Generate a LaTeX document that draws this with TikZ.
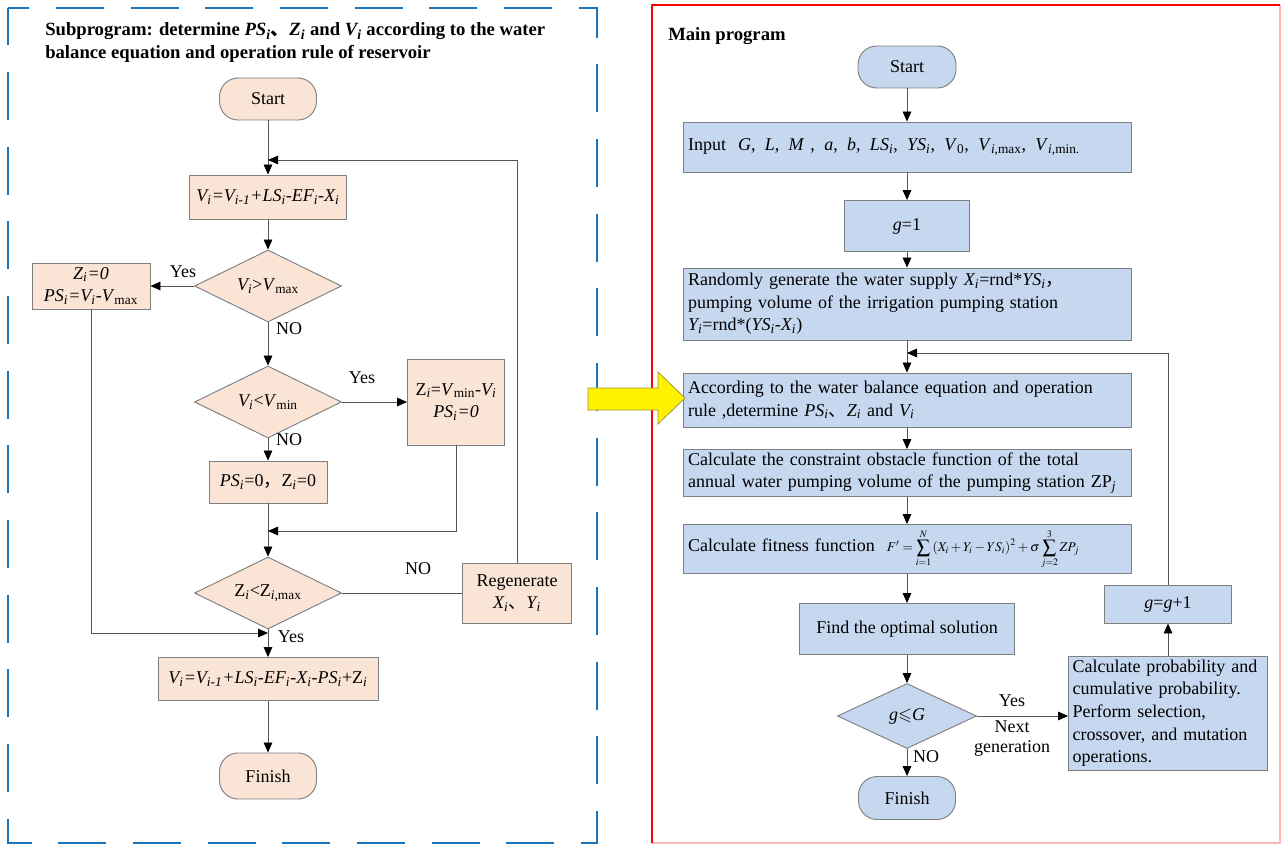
\documentclass[tikz,border=0pt]{standalone}
\usepackage{mathptmx}
\usepackage{fontspec}
\setmainfont{Liberation Serif}
\newfontfamily\cjk{Noto Sans CJK SC}
\usepackage{amssymb}
\usetikzlibrary{arrows.meta,shapes.geometric}
\newcommand{\sbs}[1]{\textsubscript{#1}}
\newcommand{\dun}{{\cjk 、}}
\newcommand{\fcm}{{\cjk ，}}
\newcommand{\isp}{\space\hspace{2.5pt}}
\newcommand{\pxl}[1]{#1*0.75pt}
\definecolor{peach}{HTML}{FAE4D5}
\definecolor{lblue}{HTML}{C6D8EF}
\definecolor{edgegray}{HTML}{7F7F7F}
\definecolor{conngray}{HTML}{555555}
\definecolor{dashblue}{HTML}{1B75BC}
\definecolor{pinkline}{HTML}{FFB8B8}
\definecolor{arrowedge}{HTML}{9A9A40}
\tikzset{
  base/.style={draw=edgegray, line width=0.7pt, inner sep=0pt, font=\fontsize{13.5}{17}\selectfont, align=center},
  pbox/.style={base, fill=peach, rectangle},
  bbox/.style={base, fill=lblue, rectangle},
  term/.style={rounded corners=14pt},
  dia/.style={diamond, aspect=2},
  wide/.style={bbox, text width=\pxl{438}, inner xsep=\pxl{5}, align=left},
  ar/.style={draw=conngray, line width=0.6pt, -{Triangle[length=7.5pt,width=6.5pt,color=black]}},
  ln/.style={draw=conngray, line width=0.6pt},
  lab/.style={font=\fontsize{13.5}{15}\selectfont, inner sep=1pt, align=center},
  ttl/.style={font=\bfseries\fontsize{14}{16}\selectfont, inner sep=0pt, anchor=base west}
}
\begin{document}
\begin{tikzpicture}[x=0.75pt,y=-0.75pt]
\useasboundingbox (0,0) rectangle (1281,845);
\fill[white] (0,0) rectangle (1281,845);
% frames
\draw[dashblue, line width=2.2pt, dash pattern=on 36pt off 20pt, dash phase=8pt] (8,8) rectangle (597,843);
\draw[pinkline, line width=1.2pt] (1280,5) -- (1280,843) -- (652,843);
\draw[red, line width=2.2pt] (652,843) -- (652,5) -- (1280,5);

% ---------- left ----------
\node[ttl] (t1) at (45,36) {Subprogram: determine \textit{PS\sbs{i}}\dun\textit{Z\sbs{i}} and \textit{V\sbs{i}} according to the water};
\node[ttl] (t2) at (45,59) {balance equation and operation rule of reservoir};

\node[pbox, term, minimum width=\pxl{97}, minimum height=\pxl{42}] (ls) at (268,99) {Start};
\node[pbox, minimum width=\pxl{157}, minimum height=\pxl{44}] (lb1) at (268,197) {\textit{V\sbs{i}=V\sbs{i-1}+LS\sbs{i}-EF\sbs{i}-X\sbs{i}}};
\node[pbox, dia, minimum width=\pxl{147}, minimum height=\pxl{72}] (ld1) at (268,286) {\textit{V\sbs{i}}>\textit{V}\sbs{max}};
\node[pbox, minimum width=\pxl{118}, minimum height=\pxl{46}] (ll) at (91,286) {\textit{Z\sbs{i}=0}\\\textit{PS\sbs{i}=V\sbs{i}-V}\sbs{max}};
\node[pbox, dia, minimum width=\pxl{147}, minimum height=\pxl{72}] (ld2) at (268,402) {\textit{V\sbs{i}}<\textit{V}\sbs{min}};
\node[pbox, minimum width=\pxl{97}, minimum height=\pxl{86}] (lr) at (456,402) {Z\sbs{\textit{i}}=\textit{V}\sbs{min}-\textit{V\sbs{i}}\\\textit{PS\sbs{i}=0}};
\node[pbox, minimum width=\pxl{118}, minimum height=\pxl{42}] (lb2) at (268,482) {\textit{PS\sbs{i}}=0\fcm Z\sbs{\textit{i}}=0};
\node[pbox, dia, minimum width=\pxl{147}, minimum height=\pxl{72}] (ld3) at (268,593) {Z\sbs{\textit{i}}<Z\sbs{\textit{i},max}};
\node[pbox, minimum width=\pxl{109}, minimum height=\pxl{60}] (lg) at (517,593) {Regenerate\\\textit{X\sbs{i}}\dun\textit{Y\sbs{i}}};
\node[pbox, minimum width=\pxl{220}, minimum height=\pxl{43}] (lb3) at (268,679) {\textit{V\sbs{i}=V\sbs{i-1}+LS\sbs{i}-EF\sbs{i}-X\sbs{i}-PS\sbs{i}}+Z\sbs{\textit{i}}};
\node[pbox, term, minimum width=\pxl{97}, minimum height=\pxl{46}] (lf) at (268,776) {Finish};

\coordinate (j1) at (268,160);
\coordinate (j2) at (268,531);
\coordinate (j3) at (268,633);

\draw[ar] (ls) -- (lb1);
\draw[ar] (lb1) -- (ld1);
\draw[ar] (ld1) -- (ll);
\draw[ar] (ld1) -- (ld2);
\draw[ar] (ld2) -- (lr);
\draw[ar] (ld2) -- (lb2);
\draw[ar] (lb2) -- (ld3);
\draw[ar] (lr.south) |- (j2);
\draw[ln] (ld3) -- (lg);
\draw[ar] (lg.north) |- (j1);
\draw[ar] (ll.south) |- (j3);
\draw[ar] (ld3) -- (lb3);
\draw[ar] (lb3) -- (lf);

\node[lab] (y1) at (183,272) {Yes};
\node[lab] (n1) at (289,329) {NO};
\node[lab] (y2) at (362,378) {Yes};
\node[lab] (n2) at (289,440) {NO};
\node[lab] (n3) at (418,569) {NO};
\node[lab] (y3) at (291,637) {Yes};

% ---------- right ----------
\node[ttl] (t3) at (668,41) {Main program};
\node[bbox, term, minimum width=\pxl{98}, minimum height=\pxl{42}] (rs) at (907,67) {Start};
\node[wide, minimum height=\pxl{50}] (rin) at (907,147) {Input \ \textit{G},\isp\textit{L},\isp\textit{M} ,\isp\textit{a},\isp\textit{b},\isp\textit{LS\sbs{i}},\isp\textit{YS\sbs{i}},\isp\textit{V}\sbs{0},\isp\textit{V}\sbs{\textit{i},max},\isp\textit{V}\sbs{\textit{i},min.}};
\node[bbox, minimum width=\pxl{125}, minimum height=\pxl{51}] (rg1) at (907,226) {\textit{g}=1};
\node[wide, minimum height=\pxl{72}] (rrand) at (907,304) {Randomly generate the water supply \textit{X\sbs{i}}=rnd*\textit{YS\sbs{i}}\fcm\\pumping volume of the irrigation pumping station\\\textit{Y\sbs{i}}=rnd*(\textit{YS\sbs{i}}-\textit{X\sbs{i}})};
\node[wide, minimum height=\pxl{54}] (racc) at (907,400) {According to the water balance equation and operation\\rule ,determine \textit{PS\sbs{i}}\dun\textit{Z\sbs{i}} and \textit{V\sbs{i}}};
\node[wide, minimum height=\pxl{47}] (rcon) at (907,473) {Calculate the constraint obstacle function of the total\\annual water pumping volume of the pumping station ZP\sbs{\textit{j}}};
\node[wide, minimum height=\pxl{49}] (rfit) at (907,549) {Calculate fitness function \ {\fontsize{10}{10}\selectfont$\displaystyle F'=\sum_{i=1}^{N}\left(X_i+Y_i-YS_i\right)^2+\sigma\sum_{j=2}^{3}ZP_j$}};
\node[bbox, minimum width=\pxl{215}, minimum height=\pxl{51}] (ropt) at (907,629) {Find the optimal solution};
\node[bbox, dia, minimum width=\pxl{139}, minimum height=\pxl{65}] (rdia) at (907,716) {\textit{g}$\leqslant$\textit{G}};
\node[bbox, text width=\pxl{191}, inner xsep=\pxl{4}, align=left, minimum height=\pxl{114}] (rprob) at (1168,713) {Calculate probability and\\cumulative probability.\\Perform selection,\\crossover, and mutation\\operations.};
\node[bbox, minimum width=\pxl{127}, minimum height=\pxl{38}] (rgg) at (1168,604) {\textit{g}=\textit{g}+1};
\node[bbox, term, minimum width=\pxl{97}, minimum height=\pxl{43}] (rfin) at (907,798) {Finish};

\coordinate (j4) at (907,353);

\draw[ar] (rs) -- (rin);
\draw[ar] (rin) -- (rg1);
\draw[ar] (rg1) -- (rrand);
\draw[ar] (rrand) -- (racc);
\draw[ar] (racc) -- (rcon);
\draw[ar] (rcon) -- (rfit);
\draw[ar] (rfit) -- (ropt);
\draw[ar] (ropt) -- (rdia);
\draw[ar] (rdia) -- (rfin);
\draw[ar] (rdia.east) -- (rdia.east -| rprob.west);
\draw[ar] (rprob) -- (rgg);
\draw[ar] (rgg.north) |- (j4);

\node[lab] (y4) at (1012,701) {Yes};
\node[lab] (ng) at (1012,739) {Next\\generation};
\node[lab] (n4) at (926,757) {NO};

% yellow arrow
\draw[arrowedge, line width=0.6pt, fill=yellow] (588,388) -- (658,388) -- (658,372) -- (685,398) -- (658,424) -- (658,410) -- (588,410) -- cycle;
\end{tikzpicture}
\end{document}
